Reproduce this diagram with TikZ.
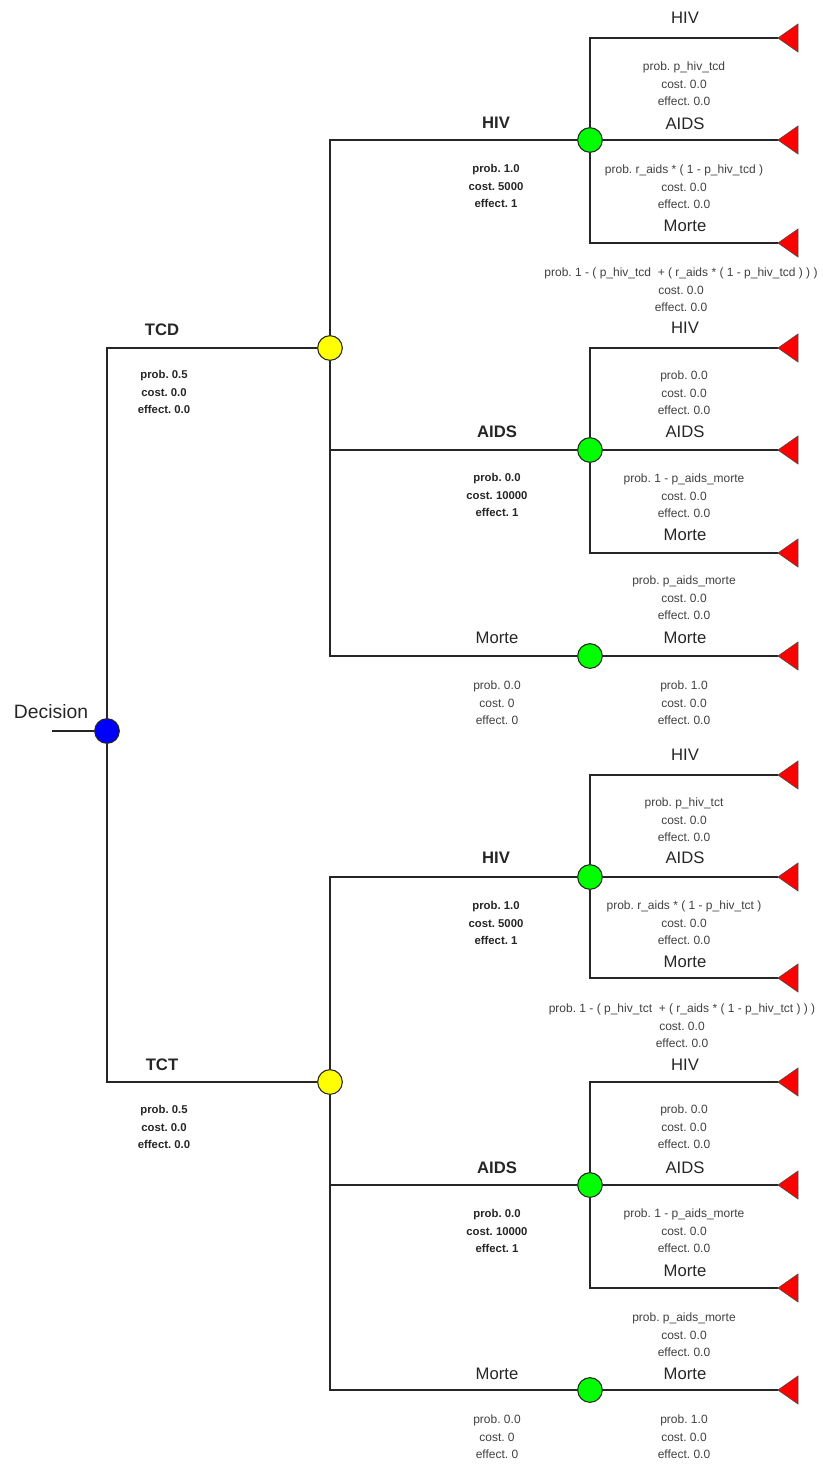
\documentclass[tikz,border=0pt]{standalone}
\usepackage{fontspec}
\setmainfont{Liberation Sans}
\frenchspacing
\definecolor{chgreen}{HTML}{00FF00}
\definecolor{chyellow}{HTML}{FFFF00}
\definecolor{decblue}{HTML}{0000FF}
\definecolor{leafred}{HTML}{FF0000}
\begin{document}
\frenchspacing
\begin{tikzpicture}[x=0.75pt,y=-0.75pt,
  conn/.style={line width=1pt, draw=black!85},
  chance/.style={circle, draw=black!85, line width=0.8pt, fill=chgreen, minimum size=18.5pt, inner sep=0pt},
  yel/.style={chance, fill=chyellow},
  decn/.style={chance, fill=decblue},
  leaf/.style={fill=leafred, draw=black!70, line width=0.5pt},
  lbl/.style={font=\fontsize{12.5}{15}\selectfont, text=black!85, inner sep=0pt},
  blbl/.style={font=\fontsize{12.5}{15}\selectfont\bfseries, text=black!85, inner sep=0pt},
  stat/.style={align=center, font=\fontsize{9}{13.1}\selectfont, text=black!75, inner sep=0pt},
  bstat/.style={align=center, font=\fontsize{8.5}{13.1}\selectfont\bfseries, text=black!85, inner sep=0pt}
]
\useasboundingbox (0,0) rectangle (822,1465);

% nodes
\coordinate (start) at (52,731);
\node[decn] (dec) at (107,731) {};
\node[yel] (tcd) at (330,348) {};
\node[yel] (tct) at (330,1082) {};
\node[chance] (c1) at (590,140) {};
\node[chance] (c2) at (590,450) {};
\node[chance] (c3) at (590,656) {};
\node[chance] (c4) at (590,877) {};
\node[chance] (c5) at (590,1185) {};
\node[chance] (c6) at (590,1390) {};

\foreach \n/\y in {1/38,2/140,3/243,4/348,5/450,6/553,7/656,8/775,9/877,10/978,11/1082,12/1185,13/1288,14/1390}{
  \coordinate (l\n) at (778,\y);
}

% connectors
\draw[conn] (start) -- (dec);
\draw[conn] (dec) |- (tcd);
\draw[conn] (dec) |- (tct);
\draw[conn] (tcd) |- (c1);
\draw[conn] (tcd) |- (c2);
\draw[conn] (tcd) |- (c3);
\draw[conn] (tct) |- (c4);
\draw[conn] (tct) |- (c5);
\draw[conn] (tct) |- (c6);
\draw[conn] (c1) |- (l1);
\draw[conn] (c1) -- (l2);
\draw[conn] (c1) |- (l3);
\draw[conn] (c2) |- (l4);
\draw[conn] (c2) -- (l5);
\draw[conn] (c2) |- (l6);
\draw[conn] (c3) -- (l7);
\draw[conn] (c4) |- (l8);
\draw[conn] (c4) -- (l9);
\draw[conn] (c4) |- (l10);
\draw[conn] (c5) |- (l11);
\draw[conn] (c5) -- (l12);
\draw[conn] (c5) |- (l13);
\draw[conn] (c6) -- (l14);

% leaves
\foreach \n in {1,...,14}{
  \filldraw[leaf] (l\n) -- ++(20,-14) -- ++(0,28) -- cycle;
}

% labels
\node[lbl, font=\fontsize{14.5}{17}\selectfont] (ldec) at (51,712) {Decision};
\node[blbl] (ltcd) at (162,330) {TCD};
\node[bstat] (stcd) at (164,392) {prob. 0.5\\cost. 0.0\\effect. 0.0};
\node[blbl] (ltct) at (162,1065) {TCT};
\node[bstat] (stct) at (164,1127) {prob. 0.5\\cost. 0.0\\effect. 0.0};

% TCD second level
\node[blbl] (la1) at (496,123) {HIV};
\node[bstat] (sa1) at (496,186) {prob. 1.0\\cost. 5000\\effect. 1};
\node[blbl] (la2) at (497,432) {AIDS};
\node[bstat] (sa2) at (497,495) {prob. 0.0\\cost. 10000\\effect. 1};
\node[lbl] (la3) at (497,638) {Morte};
\node[stat] (sa3) at (497,703) {prob. 0.0\\cost. 0\\effect. 0};

% TCT second level
\node[blbl] (lb1) at (496,858) {HIV};
\node[bstat] (sb1) at (496,923) {prob. 1.0\\cost. 5000\\effect. 1};
\node[blbl] (lb2) at (497,1168) {AIDS};
\node[bstat] (sb2) at (497,1231) {prob. 0.0\\cost. 10000\\effect. 1};
\node[lbl] (lb3) at (497,1374) {Morte};
\node[stat] (sb3) at (497,1437) {prob. 0.0\\cost. 0\\effect. 0};

% terminals TCD
\node[lbl] (t1) at (685,18) {HIV};
\node[stat] (st1) at (684,84) {prob. p\_hiv\_tcd\\cost. 0.0\\effect. 0.0};
\node[lbl] (t2) at (685,124) {AIDS};
\node[stat] (st2) at (684,187) {prob. r\_aids * ( 1 - p\_hiv\_tcd )\\cost. 0.0\\effect. 0.0};
\node[lbl] (t3) at (685,226) {Morte};
\node[stat] (st3) at (681,290) {prob. 1 - ( p\_hiv\_tcd \ + ( r\_aids * ( 1 - p\_hiv\_tcd ) ) )\\cost. 0.0\\effect. 0.0};
\node[lbl] (t4) at (685,328) {HIV};
\node[stat] (st4) at (684,393) {prob. 0.0\\cost. 0.0\\effect. 0.0};
\node[lbl] (t5) at (685,432) {AIDS};
\node[stat] (st5) at (684,496) {prob. 1 - p\_aids\_morte\\cost. 0.0\\effect. 0.0};
\node[lbl] (t6) at (685,535) {Morte};
\node[stat] (st6) at (684,598) {prob. p\_aids\_morte\\cost. 0.0\\effect. 0.0};
\node[lbl] (t7) at (685,638) {Morte};
\node[stat] (st7) at (684,703) {prob. 1.0\\cost. 0.0\\effect. 0.0};

% terminals TCT
\node[lbl] (t8) at (685,755) {HIV};
\node[stat] (st8) at (684,820) {prob. p\_hiv\_tct\\cost. 0.0\\effect. 0.0};
\node[lbl] (t9) at (685,858) {AIDS};
\node[stat] (st9) at (684,923) {prob. r\_aids * ( 1 - p\_hiv\_tct )\\cost. 0.0\\effect. 0.0};
\node[lbl] (t10) at (685,962) {Morte};
\node[stat] (st10) at (682,1026) {prob. 1 - ( p\_hiv\_tct \ + ( r\_aids * ( 1 - p\_hiv\_tct ) ) )\\cost. 0.0\\effect. 0.0};
\node[lbl] (t11) at (685,1065) {HIV};
\node[stat] (st11) at (684,1127) {prob. 0.0\\cost. 0.0\\effect. 0.0};
\node[lbl] (t12) at (685,1168) {AIDS};
\node[stat] (st12) at (684,1231) {prob. 1 - p\_aids\_morte\\cost. 0.0\\effect. 0.0};
\node[lbl] (t13) at (685,1271) {Morte};
\node[stat] (st13) at (684,1335) {prob. p\_aids\_morte\\cost. 0.0\\effect. 0.0};
\node[lbl] (t14) at (685,1374) {Morte};
\node[stat] (st14) at (684,1437) {prob. 1.0\\cost. 0.0\\effect. 0.0};
\end{tikzpicture}
\end{document}
